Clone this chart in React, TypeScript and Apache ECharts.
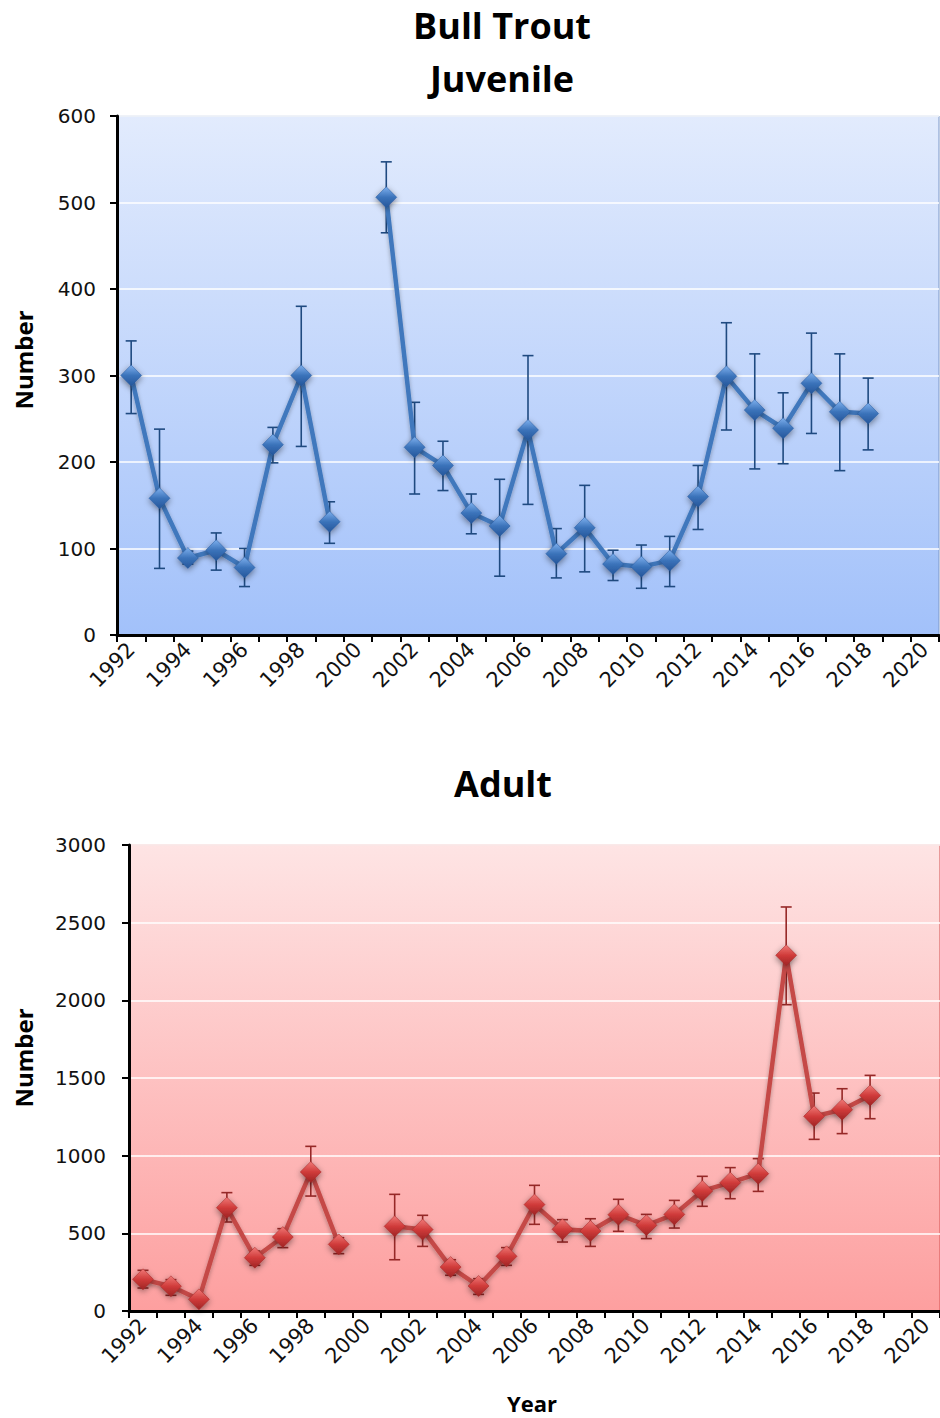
import React, { useEffect, useRef } from "react";
import * as echarts from "echarts";

const years = ["1992","1993","1994","1995","1996","1997","1998","1999","2000","2001","2002","2003","2004","2005","2006","2007","2008","2009","2010","2011","2012","2013","2014","2015","2016","2017","2018","2019","2020"];

const juvenile = [300,158,89,98,78,220,300,131,null,506,217,196,141,126,237,94,124,82,79,86,160,299,260,239,291,258,256,null,null];
const juvenileLow = [256,77,82,75,56,199,218,106,null,465,163,167,117,68,151,66,73,63,54,56,122,237,192,198,233,190,214,null,null];
const juvenileHigh = [340,238,97,118,100,240,380,154,null,547,269,224,163,180,323,123,173,98,104,114,196,361,325,280,349,325,297,null,null];

const adult = [204,159,75,665,343,476,895,429,null,545,524,283,161,352,685,526,515,620,552,622,773,826,884,2290,1253,1296,1388,null,null];
const adultLow = [148,101,null,573,294,408,740,369,null,330,416,230,107,294,558,444,416,513,466,534,674,723,770,1972,1105,1142,1238,null,null];
const adultHigh = [262,202,null,762,386,530,1060,472,null,751,616,330,208,408,809,588,594,719,622,712,867,923,981,2601,1403,1431,1517,null,null];

const juvTicks = [0, 600, 100];
const adultTicks = [0, 3000, 500];

function errData(lo: (number | null)[], hi: (number | null)[]) {
  const out: any[] = [];
  lo.forEach((l, i) => {
    const h = hi[i];
    if (l != null && h != null) out.push([i, l, h]);
  });
  return out;
}

function errSeries(gi: number, lo: any[], hi: any[], color: string) {
  return {
    type: "custom",
    xAxisIndex: gi,
    yAxisIndex: gi,
    z: 3,
    silent: true,
    encode: { x: 0, y: [1, 2] },
    data: errData(lo, hi),
    renderItem: (params: any, api: any) => {
      const x = api.value(0);
      const pLo = api.coord([x, api.value(1)]);
      const pHi = api.coord([x, api.value(2)]);
      const hw = 5.5;
      const style = { stroke: color, lineWidth: 1.6, fill: "none" };
      return {
        type: "group",
        children: [
          { type: "line", shape: { x1: pLo[0], y1: pHi[1], x2: pLo[0], y2: pLo[1] }, style },
          { type: "line", shape: { x1: pLo[0] - hw, y1: pHi[1], x2: pLo[0] + hw, y2: pHi[1] }, style },
          { type: "line", shape: { x1: pLo[0] - hw, y1: pLo[1], x2: pLo[0] + hw, y2: pLo[1] }, style },
        ],
      };
    },
  };
}

function lineSeries(gi: number, data: any[], lineColor: string, c1: string, c2: string, c3: string) {
  return {
    type: "line",
    xAxisIndex: gi,
    yAxisIndex: gi,
    z: 4,
    data,
    connectNulls: false,
    showAllSymbol: true,
    symbol: "diamond",
    symbolSize: 21,
    lineStyle: {
      color: lineColor,
      width: 4.5,
      shadowColor: "rgba(0,0,0,0.3)",
      shadowBlur: 4,
      shadowOffsetY: 2,
    },
    itemStyle: {
      color: new echarts.graphic.LinearGradient(0, 0, 0, 1, [
        { offset: 0, color: c1 },
        { offset: 0.5, color: c2 },
        { offset: 1, color: c3 },
      ]),
      borderColor: c3,
      borderWidth: 0.5,
      shadowColor: "rgba(0,0,0,0.45)",
      shadowBlur: 6,
      shadowOffsetY: 2,
    },
    emphasis: { disabled: true },
  };
}

const tickFont = { fontFamily: "'DejaVu Sans', Verdana, sans-serif", fontSize: 20, color: "#111" };

function xAxis(gi: number) {
  return {
    type: "category",
    gridIndex: gi,
    data: years,
    boundaryGap: true,
    axisLine: { show: true, lineStyle: { color: "#000", width: 3 } },
    axisTick: { show: true, interval: 0, length: 7, lineStyle: { color: "#000", width: 2 } },
    axisLabel: { ...tickFont, fontSize: 21, interval: 1, rotate: 45, margin: 11 },
    splitLine: { show: false },
  };
}

function yAxis(gi: number, t: number[], margin: number) {
  return {
    type: "value",
    gridIndex: gi,
    min: t[0],
    max: t[1],
    interval: t[2],
    axisLine: { show: true, lineStyle: { color: "#000", width: 3 } },
    axisTick: { show: true, length: 7, lineStyle: { color: "#000", width: 2 } },
    axisLabel: { ...tickFont, margin, formatter: (v: number) => String(v) },
    splitLine: { show: true, lineStyle: { color: "#ffffff", width: 1.5 } },
  };
}

const titleFont = "'Open Sans', 'Noto Sans', sans-serif";

export default function App() {
  const ref = useRef<HTMLDivElement>(null);
  useEffect(() => {
    if (!ref.current) return;
    const chart = echarts.init(ref.current, undefined, { renderer: "svg" });
    chart.setOption({
      animation: false,
      backgroundColor: "#ffffff",
      grid: [
        {
          left: 117, top: 116, width: 822, height: 519,
          show: true,
          backgroundColor: new echarts.graphic.LinearGradient(0, 0, 0, 1, [
            { offset: 0, color: "#e2ebfd" },
            { offset: 1, color: "#a2c1fa" },
          ]),
          borderColor: "#7c98c8",
          borderWidth: 1,
        },
        {
          left: 129, top: 845, width: 811, height: 466,
          show: true,
          backgroundColor: new echarts.graphic.LinearGradient(0, 0, 0, 1, [
            { offset: 0, color: "#fee4e4" },
            { offset: 1, color: "#fd9f9f" },
          ]),
          borderColor: "#d45050",
          borderWidth: 1,
        },
      ],
      xAxis: [xAxis(0), xAxis(1)],
      yAxis: [yAxis(0, juvTicks, 21), yAxis(1, adultTicks, 23)],
      series: [
        errSeries(0, juvenileLow, juvenileHigh, "#1f4a80"),
        lineSeries(0, juvenile, "#4178bd", "#7eb0ee", "#3b73ba", "#25569a"),
        errSeries(1, adultLow, adultHigh, "#962827"),
        lineSeries(1, adult, "#c54a47", "#f07a78", "#d03b3a", "#9e2424"),
      ],
      graphic: [
        { type: "text", x: 502, y: 25, style: { text: "Bull Trout", font: `bold 36px ${titleFont}`, fill: "#000", align: "center", verticalAlign: "middle" } },
        { type: "text", x: 502, y: 78, style: { text: "Juvenile", font: `bold 36px ${titleFont}`, fill: "#000", align: "center", verticalAlign: "middle" } },
        { type: "text", x: 503, y: 783, style: { text: "Adult", font: `bold 36px ${titleFont}`, fill: "#000", align: "center", verticalAlign: "middle" } },
        { type: "text", x: 23, y: 360, rotation: Math.PI / 2, style: { text: "Number", font: `bold 24px ${titleFont}`, fill: "#000", align: "center", verticalAlign: "middle" } },
        { type: "text", x: 23, y: 1058, rotation: Math.PI / 2, style: { text: "Number", font: `bold 24px ${titleFont}`, fill: "#000", align: "center", verticalAlign: "middle" } },
        { type: "text", x: 532, y: 1403, style: { text: "Year", font: `bold 22px ${titleFont}`, fill: "#000", align: "center", verticalAlign: "middle" } },
      ],
    });
    return () => chart.dispose();
  }, []);
  return (
    <div
      ref={ref}
      style={{ position: "absolute", left: 0, top: 0, width: 940, height: 1418 }}
    />
  );
}
